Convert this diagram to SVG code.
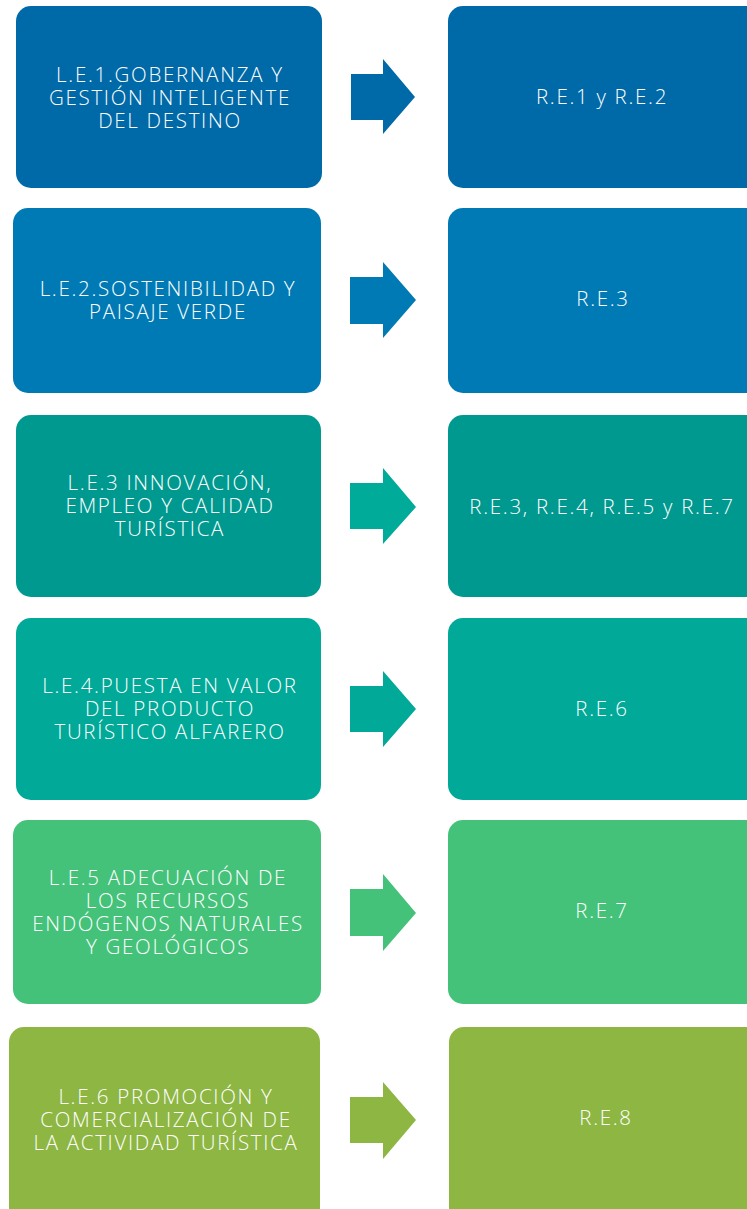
<svg xmlns="http://www.w3.org/2000/svg" width="747" height="1209" viewBox="0 0 747 1209">
<style>
text{font-family:"Open Sans","Liberation Sans",sans-serif;font-weight:300;font-size:20.5px;letter-spacing:1.7px;fill:#fff;text-anchor:middle}
.c1{fill:#0069a7}.c2{fill:#007ab5}.c3{fill:#009990}.c3a{fill:#00ab99}.c4{fill:#00a998}.c5{fill:#44c27a}.c6{fill:#8db643}
</style>
<rect width="747" height="1209" fill="#fff"/>
<g id="connectors">
<path class="c1" d="M351,74H383V59L415,97L383,134V120H351Z"/>
<path class="c2" d="M350,277H383V262L416,300L383,338V324H350Z"/>
<path class="c3a" d="M350,483H383V468L416,507L383,544V529H350Z"/>
<path class="c4" d="M350,686H383V671L416,709L383,747V732H350Z"/>
<path class="c5" d="M350,889H383V874L416,913L383,951V936H350Z"/>
<path class="c6" d="M350,1097H383V1082L416,1120L383,1159V1143H350Z"/>
</g>
<g id="le1"><rect class="c1" x="16" y="6" width="306" height="182" rx="15"/><text x="170" y="82">L.E.1.GOBERNANZA Y</text><text x="170" y="105">GESTIÓN INTELIGENTE</text><text x="170" y="128">DEL DESTINO</text></g>
<g id="re1"><rect class="c1" x="448" y="6" width="312" height="182" rx="15"/><text x="602" y="104">R.E.1 y R.E.2</text></g>
<g id="le2"><rect class="c2" x="13" y="208" width="308" height="185" rx="15"/><text x="168" y="296">L.E.2.SOSTENIBILIDAD Y</text><text x="168" y="319">PAISAJE VERDE</text></g>
<g id="re2"><rect class="c2" x="448" y="208" width="312" height="185" rx="15"/><text x="603" y="306">R.E.3</text></g>
<g id="le3"><rect class="c3" x="16" y="415" width="305" height="182" rx="15"/><text x="170" y="490">L.E.3 INNOVACIÓN,</text><text x="170" y="513">EMPLEO Y CALIDAD</text><text x="170" y="536">TURÍSTICA</text></g>
<g id="re3"><rect class="c3" x="448" y="415" width="312" height="182" rx="15"/><text x="602" y="514">R.E.3, R.E.4, R.E.5 y R.E.7</text></g>
<g id="le4"><rect class="c4" x="16" y="618" width="305" height="182" rx="15"/><text x="170" y="693">L.E.4.PUESTA EN VALOR</text><text x="170" y="716">DEL PRODUCTO</text><text x="170" y="739">TURÍSTICO ALFARERO</text></g>
<g id="re4"><rect class="c4" x="448" y="618" width="312" height="182" rx="15"/><text x="602" y="716">R.E.6</text></g>
<g id="le5"><rect class="c5" x="13" y="820" width="308" height="184" rx="15"/><text x="168" y="885">L.E.5 ADECUACIÓN DE</text><text x="168" y="908">LOS RECURSOS</text><text x="168" y="931">ENDÓGENOS NATURALES</text><text x="168" y="954">Y GEOLÓGICOS</text></g>
<g id="re5"><rect class="c5" x="448" y="820" width="312" height="184" rx="15"/><text x="602" y="918">R.E.7</text></g>
<g id="le6"><rect class="c6" x="9" y="1027" width="311" height="200" rx="15"/><text x="166" y="1104">L.E.6 PROMOCIÓN Y</text><text x="166" y="1127">COMERCIALIZACIÓN DE</text><text x="166" y="1150">LA ACTIVIDAD TURÍSTICA</text></g>
<g id="re6"><rect class="c6" x="449" y="1027" width="312" height="200" rx="15"/><text x="606" y="1125">R.E.8</text></g>
</svg>
